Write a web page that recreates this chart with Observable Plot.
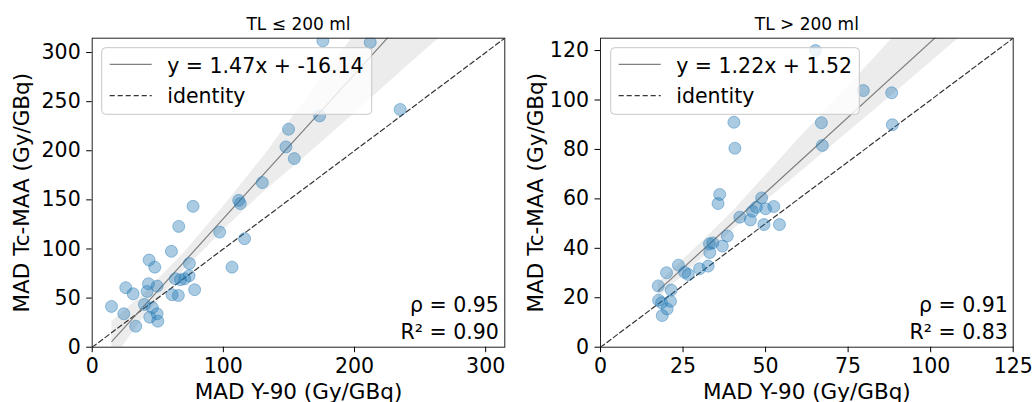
<!DOCTYPE html>
<html><head><meta charset="utf-8">
<script src="https://cdn.jsdelivr.net/npm/d3@7"></script>
<script src="https://cdn.jsdelivr.net/npm/@observablehq/plot@0.6"></script>
<style>
html,body{margin:0;padding:0;background:#fff;}
#row{display:flex;width:1035px;height:402px;overflow:hidden;}
#row svg{display:block;}
</style></head><body><div id="row"></div>
<script>
// ---- data ----
const xLabel = "MAD Y-90 (Gy/GBq)";
const yLabel = "MAD Tc-MAA (Gy/GBq)";

const leftTitle = "TL ≤ 200 ml";
const leftX = [175.9,212.0,234.8,173.4,149.7,147.7,154.1,129.7,111.7,112.9,76.9,66.0,97.2,116.2,60.4,43.4,47.7,74.1,106.6,63.4,67.3,70.5,73.9,78.1,60.9,65.7,49.5,42.9,41.9,25.6,31.2,14.7,24.1,39.8,45.9,43.9,49.5,50.0,33.2];
const leftY = [311.9,310.3,242.0,235.5,221.9,203.9,192.0,167.6,149.5,146.2,143.4,123.0,117.2,110.5,97.6,88.7,81.5,85.3,81.5,69.7,68.7,69.7,72.8,58.5,53.4,52.7,62.2,64.6,56.8,60.6,54.4,41.5,34.0,43.5,40.1,30.6,34.0,26.5,21.4];
const leftSlope = 1.47, leftIntercept = -16.14;
const leftFitLabel = "y = 1.47x + -16.14";
const leftBandX  = [15, 40, 70, 100, 130, 160, 200, 240, 270];
const leftBandLo = [-14, 31, 78, 119, 157, 191, 238, 286, 321];
const leftBandHi = [26, 55, 96, 143, 193, 247, 318, 388, 441];
const leftDomain = [0, 314.6];
const leftXTicks = [0, 100, 200, 300];
const leftYTicks = [0, 50, 100, 150, 200, 250, 300];
const leftRho = "ρ = 0.95", leftR2 = "R² = 0.90";

const rightTitle = "TL > 200 ml";
const rightX = [65.1,79.6,88.2,40.4,66.9,88.4,40.7,67.2,36.1,35.6,48.8,52.5,50.0,47.2,46.0,45.4,42.2,49.5,54.2,38.4,33.0,34.0,33.1,36.9,32.6,30.0,23.6,20.0,25.5,26.6,17.5,21.4,17.6,18.5,21.2,20.2,18.7];
const rightY = [120.0,103.8,102.9,91.0,90.8,90.0,80.5,81.6,61.8,58.1,60.4,56.9,56.0,56.6,55.0,51.5,52.6,49.6,49.6,45.0,41.8,42.2,38.3,40.9,32.8,31.7,33.2,30.1,30.3,29.4,24.8,23.1,19.0,18.0,18.6,15.5,12.8];
const rightSlope = 1.22, rightIntercept = 1.52;
const rightFitLabel = "y = 1.22x + 1.52";
const rightBandX  = [17.5, 30, 40, 50, 60, 75, 90, 110];
const rightBandLo = [19.9, 35.0, 47.3, 59.0, 70.2, 87.0, 103.8, 126.7];
const rightBandHi = [25.9, 41.6, 54.8, 69.5, 84.2, 105.5, 127.3, 155.7];
const rightDomain = [0, 125];
const rightXTicks = [0, 25, 50, 75, 100, 125];
const rightYTicks = [0, 20, 40, 60, 80, 100, 120];
const rightRho = "ρ = 0.91", rightR2 = "R² = 0.83";

const FONT = "DejaVu Sans";
const DASH = "5,3";

function panel(o) {
  const pts = o.xs.map((x, i) => ({x, y: o.ys[i]}));
  const band = o.bandX.map((x, i) => ({x, lo: o.bandLo[i], hi: o.bandHi[i]}));
  const fit = [o.bandX[0], o.bandX[o.bandX.length - 1]].map(x => ({x, y: o.slope * x + o.intercept}));
  const ident = o.domain.map(v => ({x: v, y: v}));
  const T = d => d;
  const chart = Plot.plot({
    width: o.width, height: 402,
    marginLeft: o.ml, marginRight: o.mr, marginTop: 37.7, marginBottom: 55.3,
    style: {fontFamily: FONT, fontSize: "20.5px", color: "#000", background: "#fff", overflow: "visible"},
    x: {domain: o.domain},
    y: {domain: o.domain},
    marks: [
      Plot.areaY(band, {x: "x", y1: "lo", y2: "hi", fill: "#808080", fillOpacity: 0.15, clip: true}),
      Plot.line(ident, {x: "x", y: "y", stroke: "#333", strokeWidth: 1.2, strokeDasharray: DASH, clip: true}),
      Plot.line(fit, {x: "x", y: "y", stroke: "#808080", strokeWidth: 1.2, clip: true}),
      Plot.dot(pts, {x: "x", y: "y", r: 6, fill: "#1f77b4", fillOpacity: 0.38, stroke: "#1f77b4", strokeOpacity: 0.42, strokeWidth: 1, clip: true}),
      Plot.frame({stroke: "#222", strokeWidth: 1}),
      Plot.axisX({ticks: o.xTicks, tickSize: 5.5, tickPadding: 6, label: null, tickFormat: d => String(d)}),
      Plot.axisY({ticks: o.yTicks, tickSize: 5.5, tickPadding: 6, label: null, tickFormat: d => String(d)}),
      Plot.text([o.title], {text: T, frameAnchor: "top", lineAnchor: "bottom", dy: -8.4, fontSize: 17}),
      Plot.text([xLabel], {text: T, frameAnchor: "bottom", lineAnchor: "bottom", dy: 52, fontSize: 21.5}),
      Plot.text([yLabel], {text: T, frameAnchor: "left", rotate: -90, lineAnchor: "middle", textAnchor: "middle", dx: o.ylabDx, fontSize: 21.5}),
      Plot.text([o.rho], {text: T, frameAnchor: "bottom-right", textAnchor: "end", lineAnchor: "bottom", dx: o.annDx, dy: -35}),
      Plot.text([o.r2], {text: T, frameAnchor: "bottom-right", textAnchor: "end", lineAnchor: "bottom", dx: o.annDx, dy: -8.4})
    ]
  });
  // legend (drawn over the data, like matplotlib's framealpha=0.8)
  const svg = d3.select(chart);
  const g = svg.append("g").attr("font-family", FONT).attr("font-size", "20.5px").attr("text-anchor", "start");
  const bx = o.legX, by = 47.7, bh = 66.6;
  g.append("rect").attr("x", bx).attr("y", by).attr("width", o.legW).attr("height", bh)
    .attr("rx", 4).attr("fill", "#fff").attr("fill-opacity", 0.8).attr("stroke", "#c8c8c8").attr("stroke-width", 1);
  g.append("line").attr("x1", bx + 8).attr("x2", bx + 50).attr("y1", by + 16.6).attr("y2", by + 16.6)
    .attr("stroke", "#808080").attr("stroke-width", 1.2);
  g.append("line").attr("x1", bx + 8).attr("x2", bx + 50).attr("y1", by + 48).attr("y2", by + 48)
    .attr("stroke", "#333").attr("stroke-width", 1.2).attr("stroke-dasharray", DASH);
  g.append("text").attr("x", bx + 65.5).attr("y", by + 24.8).attr("fill", "#000")
    .style("text-anchor", "start").style("font-size", "20.5px").text(o.fitLabel);
  g.append("text").attr("x", bx + 65.5).attr("y", by + 55.3).attr("fill", "#000")
    .style("text-anchor", "start").style("font-size", "20.5px").text("identity");
  return chart;
}

const row = document.getElementById("row");
row.appendChild(panel({
  xs: leftX, ys: leftY, slope: leftSlope, intercept: leftIntercept,
  bandX: leftBandX, bandLo: leftBandLo, bandHi: leftBandHi,
  domain: leftDomain, xTicks: leftXTicks, yTicks: leftYTicks,
  title: leftTitle, rho: leftRho, r2: leftR2, fitLabel: leftFitLabel,
  width: 517, ml: 91.7, mr: 12.7, ylabDx: -70.2, annDx: -6,
  legX: 101.7, legW: 270
}));
row.appendChild(panel({
  xs: rightX, ys: rightY, slope: rightSlope, intercept: rightIntercept,
  bandX: rightBandX, bandLo: rightBandLo, bandHi: rightBandHi,
  domain: rightDomain, xTicks: rightXTicks, yTicks: rightYTicks,
  title: rightTitle, rho: rightRho, r2: rightR2, fitLabel: rightFitLabel,
  width: 518, ml: 83, mr: 22.3, ylabDx: -64.5, annDx: -5.4,
  legX: 93.7, legW: 248.6
}));
</script></body></html>
